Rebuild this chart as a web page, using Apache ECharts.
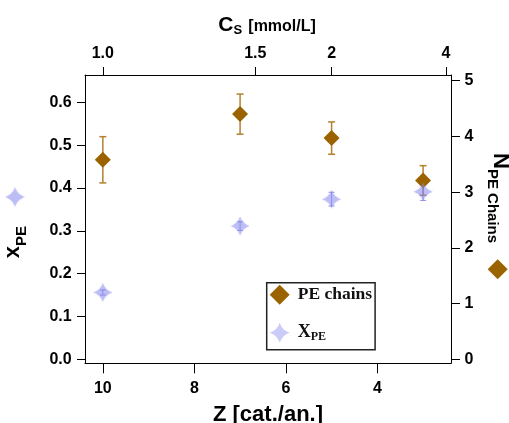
<!DOCTYPE html>
<html><head><meta charset="utf-8">
<script src="https://cdn.jsdelivr.net/npm/echarts@6/dist/echarts.min.js"></script>
<style>html,body{margin:0;padding:0;background:#fff}#c{width:509px;height:423px}</style>
</head><body><div id="c"></div>
<script>
// ---- data ----
const zValues = [10, 7, 5, 3];                 // Z [cat./an.]
const peChains = [3.58, 4.40, 3.97, 3.21];     // N PE chains (right axis)
const peChainsErr = [0.415, 0.36, 0.29, 0.265];
const xPE = [0.156, 0.311, 0.374, 0.391];      // x_PE (left axis)
const xPEErr = [0.006, 0.010, 0.016, 0.020];
const zTicks = [10, 8, 6, 4];
const csTicks = [1.0, 1.5, 2, 4];              // C_S [mmol/L] (top axis), C_S = 10 / Z
const csTickLabels = ['1.0', '1.5', '2', '4'];
const xpeTicks = [0, 0.1, 0.2, 0.3, 0.4, 0.5, 0.6];
const nTicks = [0, 1, 2, 3, 4, 5];

const csPos = csTicks.map(c => 10 / c);
const SANS = 'Liberation Sans, Arial, sans-serif';
const SERIF = 'Liberation Serif, Times New Roman, serif';
const BROWN = '#9a6300';
const BROWN_ERR = '#b3822e';
const STAR = 'rgba(140,140,240,0.45)';
const STAR_ERR = 'rgba(100,100,222,0.7)';
const starD = 'M10,0 Q12.4,7.6 20,10 Q12.4,12.4 10,20 Q7.6,12.4 0,10 Q7.6,7.6 10,0 Z';

// polygon approximation of the 4-point star, for the decorative marker beside the y title
function starPolygon(r) {
  const tips = [[0, -r], [r, 0], [0, r], [-r, 0]];
  const k = 0.24 * r, pts = [];
  for (let i = 0; i < 4; i++) {
    const a = tips[i], b = tips[(i + 1) % 4];
    const c = [Math.sign(a[0] + b[0]) * k, Math.sign(a[1] + b[1]) * k];
    for (let s = 0; s < 10; s++) {
      const t = s / 10, u = 1 - t;
      pts.push([u * u * a[0] + 2 * u * t * c[0] + t * t * b[0], u * u * a[1] + 2 * u * t * c[1] + t * t * b[1]]);
    }
  }
  return pts;
}

function errRender(color, capW, lw) {
  return function (params, api) {
    const x = api.value(0), y = api.value(1), e = api.value(2);
    const t = api.coord([x, y + e]), b = api.coord([x, y - e]);
    const h = capW / 2, st = { stroke: color, lineWidth: lw };
    return { type: 'group', children: [
      { type: 'line', shape: { x1: t[0], y1: t[1], x2: b[0], y2: b[1] }, style: st },
      { type: 'line', shape: { x1: t[0] - h, y1: t[1], x2: t[0] + h, y2: t[1] }, style: st },
      { type: 'line', shape: { x1: b[0] - h, y1: b[1], x2: b[0] + h, y2: b[1] }, style: st }
    ]};
  };
}
const lbl = { fontFamily: SANS, fontWeight: 'bold', fontSize: 16, color: '#000' };
const axLine = { show: true, onZero: false, lineStyle: { color: '#000', width: 1 } };
function txt(text, x, y, size) {
  return { type: 'text', x: x, y: y, style: { text: text, fontFamily: SANS, fontWeight: 'bold', fontSize: size,
    fill: '#000', align: 'left', verticalAlign: 'middle', textAlign: 'left', textVerticalAlign: 'middle' } };
}

const chart = echarts.init(document.getElementById('c'), null, { renderer: 'canvas' });
chart.setOption({
  animation: false,
  backgroundColor: '#fff',
  grid: { left: 85, right: 58, top: 75, bottom: 59.7, containLabel: false, outerBoundsMode: 'none' },
  xAxis: [{
    type: 'value', position: 'bottom', min: 2.39, max: 10.39, inverse: true,
    axisLine: axLine,
    axisTick: { show: true, inside: false, length: 10, customValues: zTicks, lineStyle: { color: '#000' } },
    axisLabel: Object.assign({ customValues: zTicks, margin: 17 }, lbl),
    splitLine: { show: false },
    name: 'Z [cat./an.]', nameLocation: 'middle', nameGap: 41,
    nameTextStyle: { fontFamily: SANS, fontWeight: 'bold', fontSize: 22, color: '#000' }
  }, {
    type: 'value', position: 'top', min: 2.39, max: 10.39, inverse: true,
    axisLine: axLine,
    axisTick: { show: true, inside: false, length: 8, customValues: csPos, lineStyle: { color: '#000' } },
    axisLabel: Object.assign({ customValues: csPos, margin: 13.5,
      formatter: v => { const i = csPos.findIndex(p => Math.abs(p - v) < 1e-6); return i >= 0 ? csTickLabels[i] : ''; } }, lbl),
    splitLine: { show: false }
  }],
  yAxis: [{
    type: 'value', position: 'left', min: -0.0093, max: 0.6638,
    axisLine: axLine,
    axisTick: { show: true, inside: false, length: 8, customValues: xpeTicks, lineStyle: { color: '#000' } },
    axisLabel: Object.assign({ customValues: xpeTicks, margin: 13.3, formatter: v => v.toFixed(1) }, lbl),
    splitLine: { show: false }
  }, {
    type: 'value', position: 'right', min: -0.072, max: 5.102,
    axisLine: axLine,
    axisTick: { show: true, inside: false, length: 9, customValues: nTicks, lineStyle: { color: '#000' } },
    axisLabel: Object.assign({ customValues: nTicks, margin: 13.5, formatter: v => String(Math.round(v)) }, lbl),
    splitLine: { show: false }
  }],
  legend: {
    data: ['PE chains', 'X_PE'], orient: 'vertical', left: 266.7, top: 282.7,
    itemWidth: 20, itemHeight: 20, itemGap: 18, padding: [2, 3, 7, 3],
    borderColor: '#222', borderWidth: 1.5, backgroundColor: '#fff', selectedMode: false,
    formatter: n => n === 'X_PE' ? '{x|X}{s|PE}' : '{b|PE chains}',
    textStyle: { color: '#111', fontFamily: SERIF, fontWeight: 'bold', fontSize: 17,
      rich: {
        b: { fontFamily: SERIF, fontWeight: 'bold', fontSize: 17.5, color: '#111', padding: [0, 0, 0, 3] },
        x: { fontFamily: SERIF, fontWeight: 'bold', fontSize: 18, color: '#111', padding: [0, 0, 0, 3] },
        s: { fontFamily: SERIF, fontWeight: 'bold', fontSize: 12, lineHeight: 12, color: '#111', padding: [8, 0, 0, 0] }
      } }
  },
  series: [{
    type: 'custom', name: 'peErr', xAxisIndex: 0, yAxisIndex: 1,
    renderItem: errRender(BROWN_ERR, 7, 1.5), encode: { x: 0, y: 1 },
    data: zValues.map((z, i) => [z, peChains[i], peChainsErr[i]]), silent: true
  }, {
    type: 'scatter', name: 'PE chains', xAxisIndex: 0, yAxisIndex: 1,
    symbol: 'diamond', symbolSize: 16, itemStyle: { color: BROWN, opacity: 1 },
    data: zValues.map((z, i) => [z, peChains[i]])
  }, {
    type: 'scatter', name: 'X_PE', xAxisIndex: 0, yAxisIndex: 0,
    symbol: 'path://' + starD, symbolSize: 19,
    itemStyle: { color: STAR, opacity: 1, shadowBlur: 2, shadowColor: 'rgba(140,140,240,0.5)' },
    data: zValues.map((z, i) => [z, xPE[i]])
  }, {
    type: 'custom', name: 'xpeErr', xAxisIndex: 0, yAxisIndex: 0,
    renderItem: errRender(STAR_ERR, 6, 1), encode: { x: 0, y: 1 },
    data: zValues.map((z, i) => [z, xPE[i], xPEErr[i]]), silent: true
  }],
  graphic: [
    txt('C', 218.3, 25, 21),
    txt('S', 233.5, 30.5, 13),
    txt('[mmol/L]', 248.3, 26.8, 16),
    { type: 'group', x: 13.4, y: 258.3, rotation: Math.PI / 2, children: [
      txt('x', 0, 0, 22), txt('PE', 12.2, 8.4, 15)
    ]},
    { type: 'polygon', x: 15, y: 197, shape: { points: starPolygon(10) },
      style: { fill: STAR, shadowBlur: 2, shadowColor: 'rgba(140,140,240,0.5)' } },
    { type: 'group', x: 499.6, y: 153, rotation: -Math.PI / 2, children: [
      txt('N', 0, 0, 22), txt('PE Chains', 15.9, 7.4, 15)
    ]},
    { type: 'polygon', x: 497.7, y: 269.3, shape: { points: [[0, -10], [10, 0], [0, 10], [-10, 0]] }, style: { fill: BROWN } }
  ]
});
</script></body></html>
